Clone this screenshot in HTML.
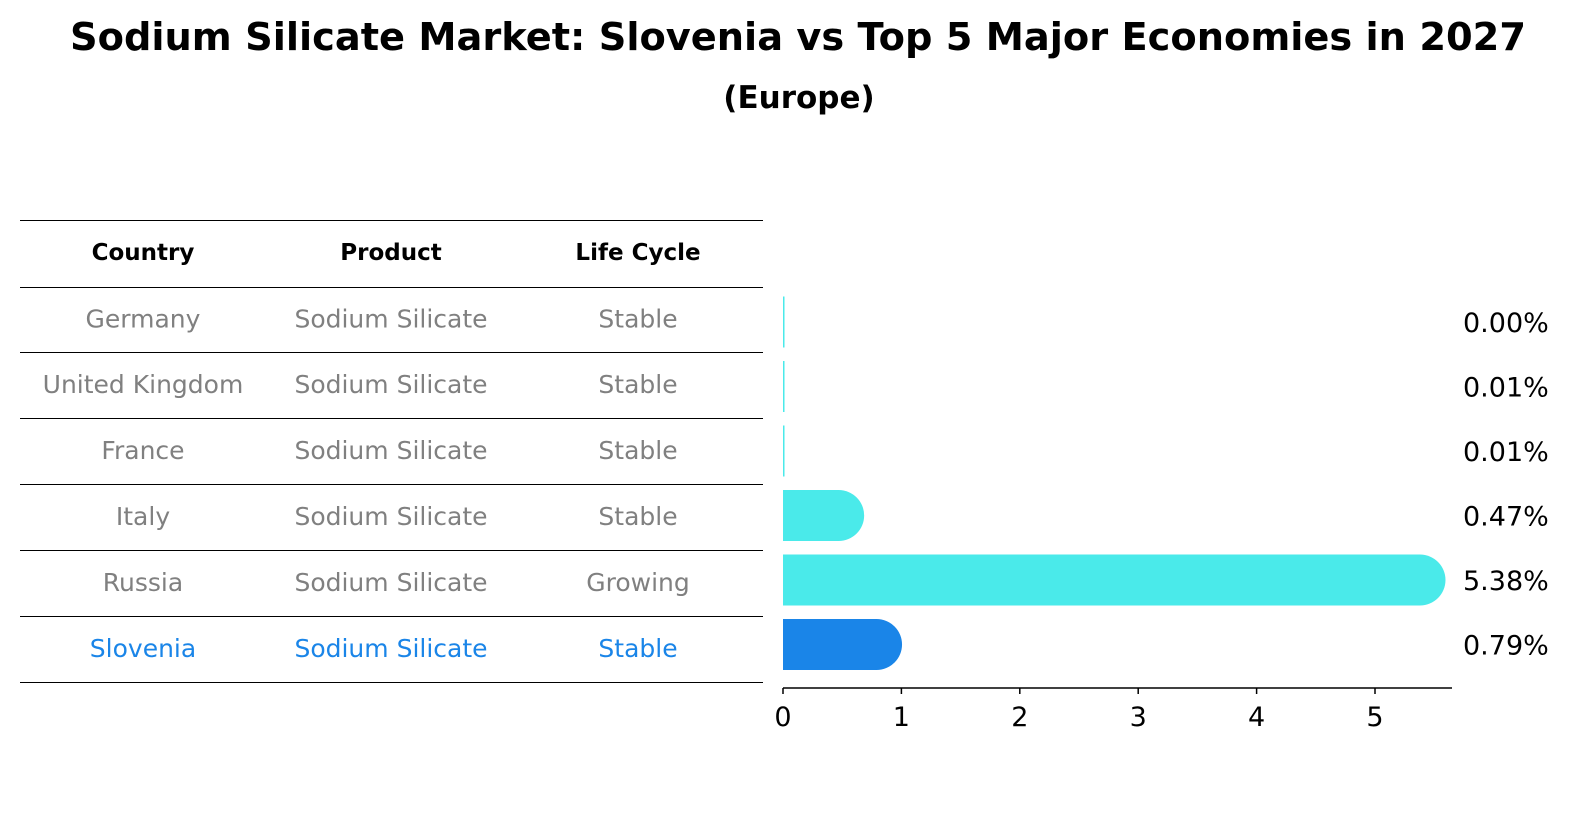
<!DOCTYPE html>
<html><head><meta charset="utf-8"><style>
body{margin:0;background:#fff;font-family:"DejaVu Sans","Liberation Sans",sans-serif;}
#wrap{position:relative;width:1586px;height:823px;overflow:hidden}
</style></head><body>
<div id="wrap">
<svg id="svg" width="1586" height="823" xmlns="http://www.w3.org/2000/svg" font-family="DejaVu Sans, Liberation Sans, sans-serif">
<text x="798" y="50" text-anchor="middle" font-size="38" font-weight="bold" textLength="1456" lengthAdjust="spacingAndGlyphs">Sodium Silicate Market: Slovenia vs Top 5 Major Economies in 2027</text>
<text x="799" y="108" text-anchor="middle" font-size="31" font-weight="bold">(Europe)</text>
<g id="table"></g>
<g id="bars"></g>
</svg>
</div>
<script>
const countries=["Germany","United Kingdom","France","Italy","Russia","Slovenia"];
const products=["Sodium Silicate","Sodium Silicate","Sodium Silicate","Sodium Silicate","Sodium Silicate","Sodium Silicate"];
const lifeCycles=["Stable","Stable","Stable","Stable","Growing","Stable"];
const shares=[0.00,0.01,0.01,0.47,5.38,0.79];
const valueLabels=["0.00%","0.01%","0.01%","0.47%","5.38%","0.79%"];
const xTicks=[0,1,2,3,4,5];
const NS="http://www.w3.org/2000/svg";
function mk(tag,attrs,parent){const e=document.createElementNS(NS,tag);for(const k in attrs)e.setAttribute(k,attrs[k]);parent.appendChild(e);return e;}
const tbl=document.getElementById('table');
const lineYs=[220,287,352,418,484,550,616,682];
lineYs.forEach((y,i)=>{const l=mk('line',{x1:20,x2:763,y1:y+0.5,y2:y+0.5,stroke:'#000','stroke-width':1},tbl);

});
const colX=[143,391,638];
["Country","Product","Life Cycle"].forEach((h,i)=>{const t=mk('text',{x:colX[i],y:260,'text-anchor':'middle','font-size':'23','font-weight':'bold'},tbl);t.textContent=h;

});
const rowY=i=>(lineYs[i+1]+lineYs[i+2])/2;
countries.forEach((c,i)=>{const col=c==="Slovenia"?"#1a85e8":"#808080";
[c,products[i],lifeCycles[i]].forEach((v,j)=>{const t=mk('text',{x:colX[j],y:rowY(i)+8,'text-anchor':'middle','font-size':'25',fill:col},tbl);t.textContent=v;

});});
const bars=document.getElementById('bars');
const x0=783,pxPer=118.4,axisY=688,barH=51;
const xs=v=>x0+v*pxPer;
const barC=i=>322+i*64.5;
countries.forEach((c,i)=>{const w=xs(shares[i])-x0;const cy=barC(i);const col=c==="Slovenia"?"#1a85e8":"#4aeaea";
let el;
if(w>barH){const r=barH/2;const x1=x0+w;
el=mk('path',{d:`M${x0},${cy-r} H${x1} A${r},${r} 0 0 1 ${x1},${cy+r} H${x0} Z`,fill:col},bars);}
else{el=mk('rect',{x:x0,y:cy-barH/2,width:Math.max(w,1.5),height:barH,fill:col},bars);}


const t=mk('text',{x:1463,y:cy+10,'font-size':'27',fill:'#000'},bars);t.textContent=valueLabels[i];

});
const ax=mk('line',{x1:x0,x2:1452,y1:axisY,y2:axisY,stroke:'#000','stroke-width':1.5},bars);


xTicks.forEach(v=>{const tk=mk('line',{x1:xs(v),x2:xs(v),y1:axisY,y2:axisY+6,stroke:'#000','stroke-width':1.5},bars);


const t=mk('text',{x:xs(v),y:axisY+38,'text-anchor':'middle','font-size':'27'},bars);t.textContent=v;

});
</script>
</body></html>
